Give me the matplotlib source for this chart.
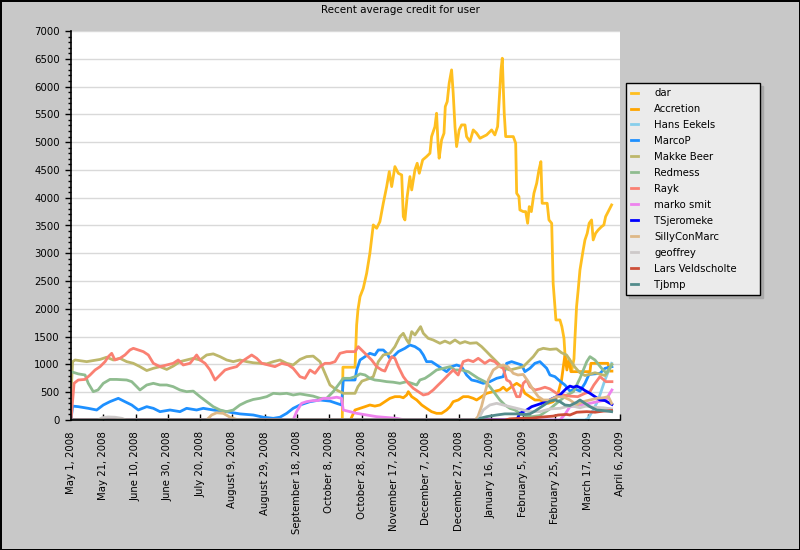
import numpy as np
import matplotlib
matplotlib.use("Agg")
import matplotlib.pyplot as plt
from matplotlib.ticker import MultipleLocator

START = np.datetime64("2008-05-01")

# x values are days after May 1, 2008, y values are recent average credit
dar_days = [0, 168, 168.4, 175.9, 176.9, 177.7, 179, 181, 183.1, 185.1,
            187.2, 189.3, 191.3, 193.4, 195.5, 197.1, 198.6, 200.6, 202.7, 204.8,
            205.8, 206.8, 208.2, 209.9, 211, 213, 214.4, 215.7, 217.8, 220.2,
            222.3, 223.3, 225.4, 226.4, 227.4, 228, 229.5, 231, 231.8, 233,
            234.2, 235.7, 236.7, 237.8, 238.8, 240.4, 241.9, 244, 245, 247.1,
            249.1, 251.2, 253.3, 257.4, 260.5, 262.5, 264.2, 265.2, 266.3, 267.1,
            267.7, 268.3, 269.2, 273.9, 275.4, 276, 277.4, 278, 280.1, 281.6,
            282.8, 283.8, 285.1, 286.7, 288.4, 289.8, 291, 291.8, 294.9, 296,
            297.7, 298.6, 299.7, 300.3, 302.8, 304, 305.3, 306, 307.2, 309,
            310.2, 311.5, 312.1, 313.1, 314.1, 315.2, 316.2, 317.2, 318.3, 319.7,
            320.9, 322.4, 323.4, 324.9, 326.5, 328.6, 330, 331.1, 332.7, 334.8]
dar_credit = [0, 0, 950, 950, 1710, 1980, 2220, 2370, 2640, 3000,
              3510, 3450, 3570, 3900, 4200, 4470, 4200, 4560, 4440, 4410,
              3660, 3600, 4020, 4380, 4140, 4500, 4620, 4440, 4680, 4740,
              4800, 5100, 5280, 5520, 4920, 4710, 5040, 5160, 5640, 5730,
              6060, 6300, 5880, 5280, 4920, 5220, 5310, 5310, 5100, 5010,
              5220, 5160, 5070, 5130, 5220, 5130, 5280, 5760, 6300, 6510,
              6000, 5520, 5100, 5100, 4980, 4080, 4020, 3780, 3750, 3750,
              3540, 3840, 3750, 4080, 4260, 4500, 4650, 3900, 3900, 3600,
              3540, 2460, 2040, 1800, 1800, 1680, 1470, 1150, 960, 1000,
              900, 1100, 1470, 2040, 2340, 2700, 2880, 3060, 3240, 3360,
              3540, 3600, 3240, 3360, 3420, 3480, 3510, 3660, 3750, 3870]

accretion_days = [0, 173, 175.9, 179, 182.1, 185.1, 188.2, 191.3, 194.4, 197.5,
                  200.6, 203.7, 205.8, 207.9, 208.9, 211, 214.1, 217.2, 220.2, 223.3,
                  226.4, 229.5, 232.6, 234.7, 236.7, 239.8, 242.9, 246, 249.1, 251.2,
                  254.3, 257.4, 261.5, 265.6, 267.7, 269.8, 272.9, 276, 279.1, 281.1,
                  284.2, 287.3, 290.4, 292.5, 295.5, 298.6, 301.1, 303.8, 305.9, 307.1,
                  308.4, 309.6, 321.4, 322, 332.5, 333.7, 335]
accretion_credit = [0, 0, 180, 210, 240, 270, 250, 270, 330, 390,
                    420, 420, 400, 450, 510, 420, 360, 270, 210, 150,
                    120, 120, 180, 240, 330, 360, 420, 420, 390, 360,
                    420, 480, 510, 540, 590, 530, 600, 660, 600, 480,
                    420, 360, 360, 330, 300, 330, 420, 720, 1170, 900,
                    1100, 870, 870, 1020, 1020, 880, 880]

hans_days = [0, 318.3, 320.3, 323.4, 326.5, 328.6, 330.7, 332.7, 334.8]
hans_credit = [0, 0, 30, 180, 360, 540, 720, 870, 1020]

marcop_days = [0, 1, 4.5, 10.7, 15.9, 20, 24.1, 29.3, 33.4, 37.6,
               41.7, 46.9, 51, 55.1, 61.3, 67.5, 71.6, 77.8, 81.9, 88.1,
               96.4, 104.6, 112.9, 119.1, 125.3, 129.4, 133.6, 137.6, 141.8, 148,
               154.2, 160.4, 164.5, 167.6, 168.6, 175.9, 176.9, 179, 182.1, 185.1,
               188.2, 190.3, 193.4, 195.5, 197.5, 199.6, 202.7, 206.8, 209.9, 213,
               216.1, 218.2, 220.2, 223.3, 226.4, 229.5, 232.6, 235.7, 238.8, 241.9,
               245, 248.1, 251.2, 255.3, 259.4, 263.6, 267.7, 269.8, 272.9, 276,
               279.1, 281.1, 284.2, 287.3, 290.4, 292.5, 294.6, 296.6, 299.7, 302.8,
               305.9, 309, 312.1, 315.2, 318.3, 320.8, 327.6, 330.7, 335]
marcop_credit = [0, 250, 240, 210, 180, 270, 330, 390, 330, 270,
                 180, 240, 210, 150, 180, 150, 210, 180, 210, 180,
                 150, 110, 90, 50, 30, 50, 120, 210, 270, 330,
                 360, 340, 300, 270, 720, 720, 900, 1080, 1140, 1200,
                 1170, 1260, 1260, 1200, 1110, 1140, 1230, 1290, 1350, 1320,
                 1260, 1170, 1050, 1050, 990, 930, 870, 960, 990, 960,
                 810, 720, 700, 660, 690, 750, 780, 1020, 1050, 1020,
                 990, 870, 930, 1020, 1050, 990, 930, 810, 780, 700,
                 630, 520, 560, 520, 660, 820, 840, 930, 960]

makke_days = [0, 1, 2.5, 9.7, 18, 22.1, 26.2, 30.3, 34.5, 38.6,
              42.7, 46.9, 51, 55.1, 59.3, 63.3, 67.5, 71.6, 75.7, 79.9,
              84, 88.1, 92.3, 96.4, 100.5, 104.6, 108.8, 112.9, 117, 121.2,
              125.3, 129.4, 133.6, 137.6, 141.8, 145.9, 150, 154.2, 157.3, 160.4,
              164.5, 168.6, 175.9, 177.7, 180.2, 185.1, 187.2, 190.3, 193.4, 197.5,
              200.6, 203.7, 205.8, 207.9, 209.3, 211, 213, 215.1, 216.5, 218.2,
              221.2, 224.3, 228.5, 231.6, 234.7, 237.8, 240.9, 244, 247.1, 251.2,
              254.3, 257.4, 259.4, 262.5, 265.6, 268.7, 271.8, 276, 280.1, 283.2,
              286.3, 289.4, 292.5, 296.6, 300.7, 303.8, 306.9, 309, 312.1, 315.2,
              318.3, 324.5, 330.7, 335]
makke_credit = [450, 1050, 1080, 1050, 1090, 1130, 1080, 1110, 1050, 1020,
                960, 890, 930, 960, 910, 970, 1050, 1080, 1110, 1080,
                1170, 1190, 1140, 1080, 1050, 1080, 1050, 1030, 1020, 1010,
                1050, 1080, 1020, 990, 1090, 1140, 1150, 1050, 840, 630,
                540, 480, 480, 600, 700, 750, 780, 1050, 1170, 1200,
                1320, 1500, 1560, 1440, 1380, 1590, 1530, 1620, 1680, 1560,
                1470, 1440, 1380, 1420, 1380, 1440, 1380, 1410, 1380, 1390,
                1320, 1230, 1170, 1080, 990, 930, 900, 930, 960, 1050,
                1140, 1260, 1290, 1270, 1280, 1210, 1170, 1080, 950, 850,
                800, 850, 800, 1000]

redmess_days = [0, 4.5, 8.7, 10.7, 13.8, 16.7, 20, 24.1, 28.3, 34.5,
                37.6, 40.7, 42.7, 46.9, 51, 55.1, 59.3, 63.3, 67.5, 71.6,
                75.7, 79.9, 84, 88.1, 92.3, 96.4, 100.5, 104.6, 108.8, 112.9,
                117, 121.2, 125.3, 129.4, 133.6, 137.6, 141.8, 145.9, 150, 154.2,
                158.3, 162.4, 165.5, 168.6, 172.8, 176.9, 179, 182.1, 185.1, 188.2,
                191.3, 195.5, 199.6, 203.7, 207.9, 211, 214.1, 216.1, 219.2, 222.3,
                226.4, 230.6, 234.7, 237.8, 241.9, 246, 249.1, 252.2, 256.3, 259.4,
                262.5, 265.6, 268.7, 271.8, 274.9, 278, 281.1, 285.5, 290.4, 296.6,
                302.8, 307.2, 311.2, 315.2, 319.4, 321.4, 324.5, 328.6, 331.7, 334.8]
redmess_credit = [870, 830, 810, 660, 510, 540, 660, 730, 730, 720,
                  690, 600, 540, 630, 660, 630, 630, 600, 540, 510,
                  520, 420, 330, 240, 180, 150, 180, 270, 330, 370,
                  390, 420, 480, 470, 480, 450, 470, 450, 430, 390,
                  390, 510, 630, 750, 750, 790, 830, 810, 750, 720,
                  710, 690, 680, 660, 690, 660, 630, 720, 750, 810,
                  900, 930, 960, 900, 900, 870, 810, 750, 690, 600,
                  480, 360, 270, 210, 180, 120, 80, 60, 80, 200,
                  350, 450, 510, 750, 1050, 1140, 1080, 930, 840, 990]

rayk_days = [0, 1.9, 4.5, 8.7, 11.8, 14.9, 18, 21.1, 23.1, 25.2,
             27.2, 30.3, 33.4, 36.5, 38.6, 41.7, 44.8, 47.9, 51, 55.1,
             59.3, 63.3, 66.4, 69.5, 73.7, 77.8, 79.9, 83, 86.1, 89.2,
             92.3, 95.4, 98.5, 102.6, 105.7, 108.8, 111.9, 115, 118.1, 122.2,
             126.3, 130.5, 134.6, 137.6, 141.8, 144.9, 148, 151.1, 154.2, 157.3,
             160.4, 163.5, 166.6, 170.7, 175.9, 177.9, 180, 183.1, 186.2, 189.3,
             192.4, 194.4, 196.5, 198.6, 200.6, 202.7, 205.8, 208.9, 212, 215.1,
             218.2, 221.2, 224.3, 227.4, 230.6, 233.6, 236.7, 239.8, 242.9, 246,
             249.1, 252.2, 256.3, 259.4, 262.5, 265.6, 267.7, 269.8, 271.8, 273.9,
             276, 278, 280.1, 282.2, 284.2, 287.3, 290.4, 293.5, 296.6, 300.7,
             304.8, 309, 313.9, 318.3, 321.4, 323.8, 327.6, 331.3, 335]
rayk_credit = [0, 660, 720, 730, 810, 900, 960, 1050, 1140, 1200,
               1080, 1110, 1170, 1260, 1290, 1260, 1230, 1170, 1020, 960,
               990, 1020, 1080, 990, 1020, 1170, 1080, 1020, 900, 720,
               810, 900, 930, 960, 1050, 1110, 1170, 1110, 1020, 990,
               960, 1020, 990, 930, 780, 750, 900, 840, 960, 1020,
               1020, 1050, 1200, 1230, 1230, 1320, 1260, 1170, 1080, 960,
               900, 880, 1020, 1140, 1110, 960, 780, 660, 570, 510,
               450, 470, 540, 630, 720, 810, 900, 810, 1050, 1080,
               1050, 1110, 1020, 1080, 1050, 960, 930, 720, 690, 570,
               420, 420, 660, 720, 600, 540, 560, 590, 560, 480,
               450, 430, 420, 480, 510, 630, 780, 690, 690]

marko_days = [0, 137.6, 139.7, 142.8, 145.9, 150, 153, 156.2, 160.4, 164.5,
              167.6, 168.6, 176.9, 183.1, 189.3, 195.5, 201.7, 206.8, 302.8, 305.9,
              309, 315.2, 321.4, 327.6, 331.3, 333.7, 335]
marko_credit = [0, 0, 150, 300, 330, 350, 350, 390, 390, 410,
                390, 180, 120, 90, 60, 45, 30, 0, 0, 100,
                240, 270, 300, 340, 360, 480, 540]

tsjer_days = [0, 276, 278, 282.2, 285.3, 288.4, 291.5, 294.6, 297.7, 300.7,
              302.8, 304.8, 306.9, 309, 311.1, 313.2, 316.3, 318.3, 321.4, 324.5,
              327.6, 330.7, 333.7, 335]
tsjer_credit = [0, 0, 120, 180, 240, 270, 300, 330, 380, 420,
                450, 510, 570, 610, 590, 610, 570, 530, 480, 420,
                360, 350, 300, 280]

silly_days = [0, 84, 87.1, 90.2, 94.3, 98.5, 102.6, 107.7, 112.9, 250.2,
              252, 254.3, 256.3, 258.4, 261.5, 264.6, 267.7, 270.6, 273.9, 276.8,
              280.1, 283.2, 286.3, 289.4, 292.5, 296.6, 300.7, 304.8, 309, 313.2,
              317.1, 321.4, 325.6, 329.7, 332.8, 334.8]
silly_credit = [0, 0, 90, 130, 120, 50, 10, 10, 0, 0,
                60, 250, 480, 720, 900, 960, 990, 960, 840, 810,
                820, 690, 540, 420, 360, 360, 420, 420, 360, 270,
                330, 360, 390, 400, 420, 300]

geoffrey_days = [0, 16.7, 19.2, 22.9, 27.2, 31.6, 34, 252, 255.3, 259.4,
                 263.6, 267.7, 271.8, 276, 280.1, 284.2, 290.4, 296.6, 302.8, 306.9,
                 310.8, 315.2, 318.9, 323.4, 329.7, 334.8]
geoffrey_credit = [0, 0, 40, 55, 50, 30, 0, 0, 180, 270,
                   300, 270, 240, 210, 180, 150, 150, 200, 210, 240,
                   250, 220, 250, 230, 220, 200]

lars_days = [0, 268.7, 271.8, 278, 284.2, 290.4, 298.6, 301.7, 306.9, 309,
             313.2, 319.4, 324.5, 329.7, 334.8]
lars_credit = [0, 0, 20, 30, 30, 50, 70, 90, 100, 90,
               140, 150, 140, 160, 170]

tjbmp_days = [0, 252, 253.3, 257.4, 263.6, 268.7, 276, 281.1, 284.2, 287.3,
              290.4, 293.5, 296.6, 299.7, 302.8, 305.9, 309, 313.2, 315.2, 318.3,
              321.4, 325.6, 329.7, 334.8]
tjbmp_credit = [0, 0, 30, 60, 90, 110, 110, 100, 110, 160,
                220, 280, 340, 360, 330, 270, 260, 320, 360, 300,
                240, 180, 170, 150]

tick_labels = ["May 1, 2008", "May 21, 2008", "June 10, 2008", "June 30, 2008",
               "July 20, 2008", "August 9, 2008", "August 29, 2008",
               "September 18, 2008", "October 8, 2008", "October 28, 2008",
               "November 17, 2008", "December 7, 2008", "December 27, 2008",
               "January 16, 2009", "February 5, 2009", "February 25, 2009",
               "March 17, 2009", "April 6, 2009"]

series = [
    ("dar", dar_days, dar_credit, "#ffbf1f"),
    ("Accretion", accretion_days, accretion_credit, "#ffa500"),
    ("Hans Eekels", hans_days, hans_credit, "#87ceeb"),
    ("MarcoP", marcop_days, marcop_credit, "#1e90ff"),
    ("Makke Beer", makke_days, makke_credit, "#bdb76b"),
    ("Redmess", redmess_days, redmess_credit, "#8fbc8f"),
    ("Rayk", rayk_days, rayk_credit, "#fa8072"),
    ("marko smit", marko_days, marko_credit, "#ee82ee"),
    ("TSjeromeke", tsjer_days, tsjer_credit, "#0000ff"),
    ("SillyConMarc", silly_days, silly_credit, "#deb887"),
    ("geoffrey", geoffrey_days, geoffrey_credit, "#cdc9c9"),
    ("Lars Veldscholte", lars_days, lars_credit, "#cd4f39"),
    ("Tjbmp", tjbmp_days, tjbmp_credit, "#528b8b"),
]


def to_dates(days):
    minutes = np.round(np.array(days) * 1440).astype("int64")
    return START + minutes.astype("timedelta64[m]")


fig = plt.figure(figsize=(8, 5.5), dpi=100, facecolor="#c8c8c8",
                 edgecolor="black", linewidth=1)
ax = fig.add_axes([71 / 800, 130 / 550, 549 / 800, 389 / 550])
ax.set_facecolor("white")

for name, days, credit, color in series:
    ax.plot(to_dates(days), credit, color=color, lw=2.0, label=name)

ax.set_xlim(START, START + np.timedelta64(340, "D"))
ax.set_ylim(0, 7000)
ax.yaxis.set_major_locator(MultipleLocator(500))
ax.yaxis.set_minor_locator(MultipleLocator(100))
ax.grid(axis="y", which="major", color="#d9d9d9", lw=1)
ax.set_axisbelow(True)
ax.spines["top"].set_visible(False)
ax.spines["right"].set_visible(False)
ax.spines["left"].set_linewidth(1.2)
ax.spines["bottom"].set_linewidth(1.2)

tick_dates = [START + np.timedelta64(20 * k, "D") for k in range(len(tick_labels))]
ax.set_xticks(tick_dates)
ax.set_xticklabels(tick_labels, rotation=90)
ax.tick_params(axis="x", direction="in", length=4, width=1, pad=8, labelsize=7.3)
ax.tick_params(axis="y", which="major", direction="out", length=4, width=1,
               pad=4, labelsize=7.3)
ax.tick_params(axis="y", which="minor", direction="out", length=2, width=1)

fig.text(0.5, 1 - 10 / 550, "Recent average credit for user",
         ha="center", va="center", fontsize=7.5)

leg = fig.legend(loc="upper left", bbox_to_anchor=(626 / 800, 1 - 83 / 550, 134 / 800, 0),
                 mode="expand", borderaxespad=0, fontsize=7.3, handlelength=0.7,
                 handletextpad=1.6, borderpad=0.5, labelspacing=0.59,
                 fancybox=False, edgecolor="black", facecolor="#ebebeb",
                 framealpha=1, shadow={"color": "#a9a9a9", "alpha": 1})
leg.get_frame().set_linewidth(1.0)

fig.savefig("out.png", dpi=100)
